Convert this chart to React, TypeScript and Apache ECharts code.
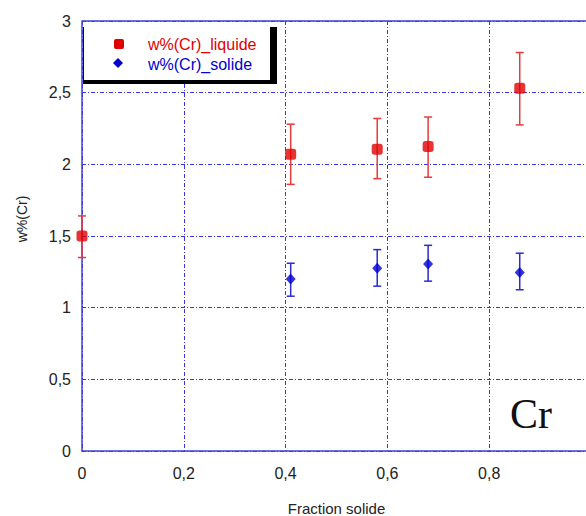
import React, { useEffect, useRef } from "react";
import * as echarts from "echarts";

const liqX = [0, 0.41, 0.58, 0.68, 0.86];
const liqY = [1.5, 2.07, 2.105, 2.125, 2.53];
const liqLo = [1.35, 1.86, 1.9, 1.91, 2.275];
const liqHi = [1.64, 2.28, 2.32, 2.33, 2.78];

const solX = [0.41, 0.58, 0.68, 0.86];
const solY = [1.2, 1.275, 1.305, 1.245];
const solLo = [1.08, 1.15, 1.185, 1.125];
const solHi = [1.31, 1.405, 1.435, 1.38];

const legendNames = ["w%(Cr)_liquide", "w%(Cr)_solide"];
const yTitle = "w%(Cr)";
const xTitle = "Fraction solide";

const RED = "#e00000";
const RED_BAR = "#e83a3a";
const BLUE = "#0000d0";
const BLUE_BAR = "#2a2ad8";
const GRID = "#3434e4";
const AXIS = "#4040dc";

const fmt = (v: number) => String(v).replace(".", ",");

function errRender(color: string) {
  return (params: any, api: any) => {
    const x = api.value(0);
    const lo = api.coord([x, api.value(1)]);
    const hi = api.coord([x, api.value(2)]);
    const hw = 4;
    const style = { stroke: color, lineWidth: 1.5 };
    return {
      type: "group",
      children: [
        { type: "line", shape: { x1: lo[0], y1: lo[1], x2: hi[0], y2: hi[1] }, style },
        { type: "line", shape: { x1: lo[0] - hw, y1: lo[1], x2: lo[0] + hw, y2: lo[1] }, style },
        { type: "line", shape: { x1: hi[0] - hw, y1: hi[1], x2: hi[0] + hw, y2: hi[1] }, style },
      ],
    };
  };
}

export default function App() {
  const ref = useRef<HTMLDivElement>(null);
  useEffect(() => {
    document.body.style.margin = "0";
    const chart = echarts.init(ref.current!, null, { renderer: "svg" });
    const font = "Liberation Sans, Arial, sans-serif";
    const splitLine = {
      show: true,
      lineStyle: { color: GRID, width: 1, type: [4, 2, 1, 2] as any },
    };
    chart.setOption({
      animation: false,
      backgroundColor: "#ffffff",
      grid: { left: 82, top: 21, right: -5, bottom: 65, outerBoundsMode: "none", containLabel: false },
      xAxis: {
        type: "value",
        min: 0,
        max: 1,
        interval: 0.2,
        position: "bottom",
        name: xTitle,
        nameLocation: "middle",
        nameGap: 50,
        nameTextStyle: { color: "#222", fontSize: 15, fontFamily: font },
        axisLine: { show: true, onZero: false, lineStyle: { color: AXIS, width: 1.5 } },
        axisTick: { show: false },
        axisLabel: {
          color: "#222",
          fontSize: 16,
          fontFamily: font,
          margin: 14,
          showMaxLabel: false,
          formatter: fmt,
        },
        splitLine,
      },
      yAxis: {
        type: "value",
        min: 0,
        max: 3,
        interval: 0.5,
        axisLine: { show: true, onZero: false, lineStyle: { color: AXIS, width: 1.5 } },
        axisTick: { show: false },
        axisLabel: { color: "#222", fontSize: 16, fontFamily: font, margin: 11, formatter: fmt },
        splitLine,
      },
      series: [
        {
          type: "custom",
          name: "liqErr",
          renderItem: errRender(RED_BAR),
          data: liqX.map((x, i) => [x, liqLo[i], liqHi[i]]),
          z: 3,
          clip: false,
        },
        {
          type: "custom",
          name: "solErr",
          renderItem: errRender(BLUE_BAR),
          data: solX.map((x, i) => [x, solLo[i], solHi[i]]),
          z: 3,
          clip: false,
        },
        {
          type: "scatter",
          name: legendNames[0],
          symbol: "roundRect",
          symbolSize: 11,
          itemStyle: { color: RED },
          data: liqX.map((x, i) => [x, liqY[i]]),
          z: 4,
          clip: false,
        },
        {
          type: "scatter",
          name: legendNames[1],
          symbol: "diamond",
          symbolSize: [10, 11],
          itemStyle: { color: BLUE },
          data: solX.map((x, i) => [x, solY[i]]),
          z: 4,
          clip: false,
        },
      ],
      graphic: [
        {
          type: "line",
          z: 9,
          shape: { x1: 82, y1: 21, x2: 586, y2: 21 },
          style: { stroke: AXIS, lineWidth: 1.5 },
        },
        {
          type: "text",
          z: 12,
          x: 22,
          y: 219,
          rotation: Math.PI / 2,
          style: {
            text: yTitle,
            fill: "#222",
            fontSize: 14,
            fontFamily: font,
            align: "center",
            verticalAlign: "middle",
          },
        },
        { type: "rect", z: 10, shape: { x: 83, y: 27, width: 194, height: 57 }, style: { fill: "#000" } },
        { type: "rect", z: 11, shape: { x: 84, y: 22, width: 186, height: 58 }, style: { fill: "#fff" } },
        { type: "rect", z: 12, shape: { x: 114, y: 39, width: 10, height: 10, r: 2 }, style: { fill: RED } },
        {
          type: "polygon",
          z: 12,
          shape: { points: [[118, 58], [123, 63], [118, 68], [113, 63]] },
          style: { fill: BLUE },
        },
        {
          type: "text",
          z: 12,
          x: 148,
          y: 44,
          style: { text: legendNames[0], fill: RED, fontSize: 16, fontFamily: font, verticalAlign: "middle" },
        },
        {
          type: "text",
          z: 12,
          x: 148,
          y: 64,
          style: { text: legendNames[1], fill: BLUE, fontSize: 16, fontFamily: font, verticalAlign: "middle" },
        },
        {
          type: "text",
          z: 12,
          x: 510,
          y: 414,
          style: {
            text: "Cr",
            fill: "#111",
            fontSize: 42,
            fontFamily: "Liberation Serif, Times New Roman, serif",
            verticalAlign: "middle",
          },
        },
      ],
    });
    return () => chart.dispose();
  }, []);
  return <div ref={ref} style={{ width: 586, height: 516, position: "absolute", left: 0, top: 0 }} />;
}
